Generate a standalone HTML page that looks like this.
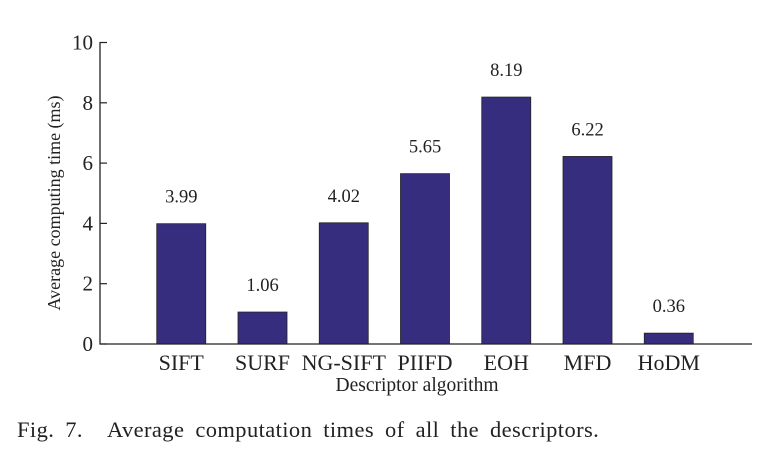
<!DOCTYPE html>
<html><head><meta charset="utf-8"><style>
body{margin:0;background:#fff}
svg text{font-family:"Liberation Serif",serif;fill:#222}
</style></head><body>
<svg width="766" height="453">
<g id="bars"></g>
<line x1="100" y1="42" x2="100" y2="344.5" stroke="#222" stroke-width="1.3"/>
<line x1="99.5" y1="344" x2="752" y2="344" stroke="#222" stroke-width="1.3"/>
<g id="ticks"></g>
<text x="0" y="0" transform="translate(60,203) rotate(-90)" text-anchor="middle" font-size="18">Average computing time (ms)</text>
<text x="417" y="391" text-anchor="middle" font-size="19.5">Descriptor algorithm</text>
<text x="17" y="437" font-size="22.5" letter-spacing="0.4" word-spacing="5">Fig. 7.<tspan x="107">Average computation times of all the descriptors.</tspan></text>
</svg>
<script>
const categories=["SIFT","SURF","NG-SIFT","PIIFD","EOH","MFD","HoDM"];
const values=[3.99,1.06,4.02,5.65,8.19,6.22,0.36];
const valueLabels=["3.99","1.06","4.02","5.65","8.19","6.22","0.36"];
const yTicks=[0,2,4,6,8,10];
const ns="http://www.w3.org/2000/svg";
const x0=100,slot=81.25,bw=49;
const xc=i=>x0+slot*(i+1);
const y=v=>344-v*30.15;
const bars=document.getElementById('bars'),ticks=document.getElementById('ticks');
function mk(tag,attrs,parent){const e=document.createElementNS(ns,tag);for(const k in attrs)e.setAttribute(k,attrs[k]);parent.appendChild(e);return e;}
categories.forEach((c,i)=>{
 const r=mk('rect',{x:xc(i)-bw/2,y:y(values[i]),width:bw,height:344-y(values[i]),fill:'#372d7e',stroke:'#222','stroke-width':0.8},bars);
 
 
 const t=mk('text',{x:xc(i),y:y(values[i])-21,'text-anchor':'middle','font-size':18.5},bars);
 t.textContent=valueLabels[i];
 
 
 const l=mk('text',{x:xc(i),y:370,'text-anchor':'middle','font-size':22},bars);
 l.textContent=c;
 
 
});
yTicks.forEach(v=>{
 const ln=mk('line',{x1:100,x2:107,y1:y(v),y2:y(v),stroke:'#222','stroke-width':1.2},ticks);
 
 
 const t=mk('text',{x:93,y:y(v)+7,'text-anchor':'end','font-size':21},ticks);
 t.textContent=v;
 
 
});
</script>
</body></html>
